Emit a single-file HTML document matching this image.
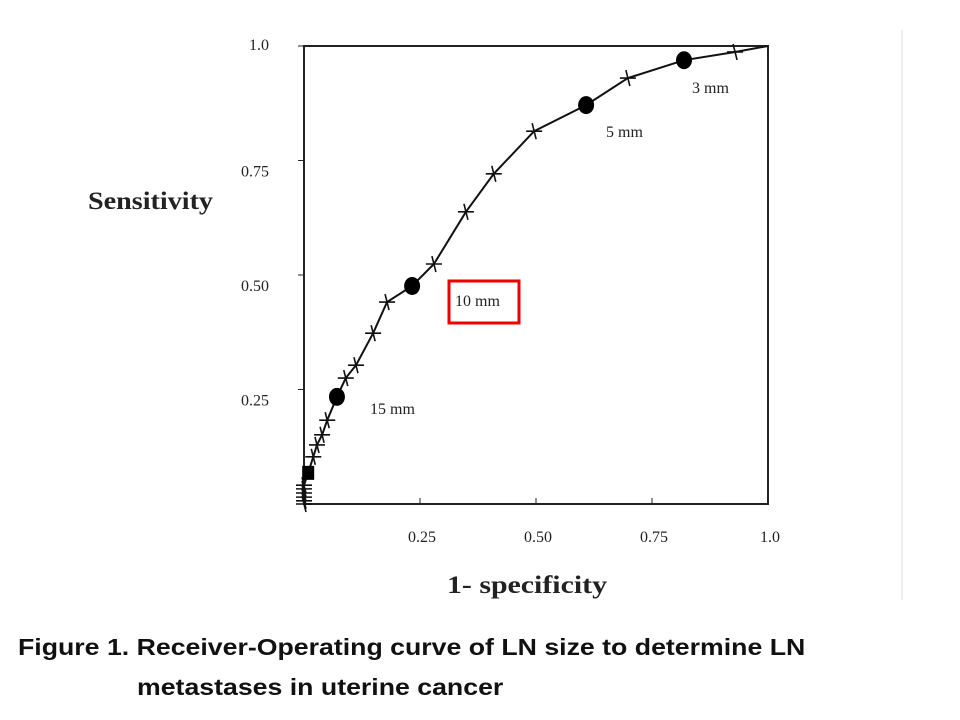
<!DOCTYPE html>
<html><head><meta charset="utf-8"><style>
body{margin:0;background:#fff;width:960px;height:720px;overflow:hidden}
.cap{position:absolute;font-family:"Liberation Sans",sans-serif;font-weight:bold;font-size:23px;color:#111;transform-origin:0 0;transform:scaleX(1.16);white-space:nowrap}
</style></head><body>
<svg width="960" height="720" style="position:absolute;left:0;top:0">
<line x1="902" y1="30" x2="902" y2="600" stroke="#ddd" stroke-width="1"/>
<g id="axes" font-family="Liberation Serif,serif" font-size="16" fill="#222"></g>
<text x="88" y="209" textLength="125" lengthAdjust="spacingAndGlyphs" font-family="Liberation Serif,serif" font-weight="bold" font-size="25" fill="#222">Sensitivity</text>
<text x="447" y="593" textLength="160" lengthAdjust="spacingAndGlyphs" font-family="Liberation Serif,serif" font-weight="bold" font-size="25" fill="#222">1- specificity</text>
<g id="series"></g>
<g font-family="Liberation Serif,serif" font-size="16" fill="#222">
<text x="692" y="93">3 mm</text>
<text x="606" y="137">5 mm</text>
<text x="455" y="306">10 mm</text>
<text x="370" y="414">15 mm</text>
</g>
<rect x="449" y="281" width="70" height="42" fill="none" stroke="#e00" stroke-width="3"/>
</svg>
<div class="cap" style="left:18px;top:634px">Figure 1. Receiver-Operating curve of LN size to determine LN</div>
<div class="cap" style="left:137px;top:674px">metastases in uterine cancer</div>
<script>
const fpr=[0,0,0,0,0,0,0.009,0.02,0.028,0.039,0.05,0.071,0.09,0.112,0.149,0.179,0.233,0.28,0.349,0.409,0.496,0.608,0.698,0.819,0.929,1];
const sens=[0,0.007,0.015,0.024,0.033,0.041,0.068,0.103,0.129,0.151,0.183,0.234,0.275,0.303,0.373,0.441,0.476,0.524,0.638,0.721,0.814,0.871,0.93,0.969,0.987,1];
const markers=["c","c","c","c","c","c","s","c","c","c","c","o","c","c","c","c","o","c","c","c","c","o","c","o","c","n"];
const xTicks=[0.25,0.5,0.75,1.0];
const xTickLabels=["0.25","0.50","0.75","1.0"];
const yTicks=[0.25,0.5,0.75,1.0];
const yTickLabels=["0.25","0.50","0.75","1.0"];
const X0=304,X1=768,Y0=504,Y1=46;
const xs=v=>X0+(X1-X0)*v, ys=v=>Y0-(Y0-Y1)*v;
const NS="http://www.w3.org/2000/svg";
function mk(t,a,p){const e=document.createElementNS(NS,t);for(const k in a)e.setAttribute(k,a[k]);p.appendChild(e);return e;}
const ax=document.getElementById('axes');
const frame=mk('rect',{x:X0,y:Y1,width:X1-X0,height:Y0-Y1,fill:'none',stroke:'#222','stroke-width':2},ax);


xTicks.forEach((v,i)=>{
 mk('line',{x1:xs(v),y1:Y0,x2:xs(v),y2:Y0-6,stroke:'#222'},ax);
 const t=mk('text',{x:xs(v)+2,y:542,'text-anchor':'middle'},ax);t.textContent=xTickLabels[i];
 
 
});
yTicks.forEach((v,i)=>{
 mk('line',{x1:X0,y1:ys(v),x2:X0-6,y2:ys(v),stroke:'#222'},ax);
 const t=mk('text',{x:269,y:ys(v)+(v==1?4:16),'text-anchor':'end'},ax);t.textContent=yTickLabels[i];
 
 
});
const g=document.getElementById('series');
const line=mk('polyline',{points:fpr.map((v,i)=>xs(v)+','+ys(sens[i])).join(' '),fill:'none',stroke:'#111','stroke-width':2},g);


fpr.forEach((v,i)=>{
 const x=xs(v),y=ys(sens[i]),m=markers[i];
 if(m==='c'){
  const p=mk('path',{d:`M${x-8} ${y}H${x+8}M${x-2} ${y-8}L${x+2} ${y+8}`,stroke:'#111','stroke-width':1.6},g);
  
  
 }else if(m==='o'){
  const c=mk('ellipse',{cx:x,cy:y,rx:8,ry:9,fill:'#000'},g);
  
  
 }else if(m==='s'){
  const r=mk('rect',{x:x-6,y:y-7,width:12,height:14,fill:'#000'},g);
  
  
 }
});
</script>
</body></html>
